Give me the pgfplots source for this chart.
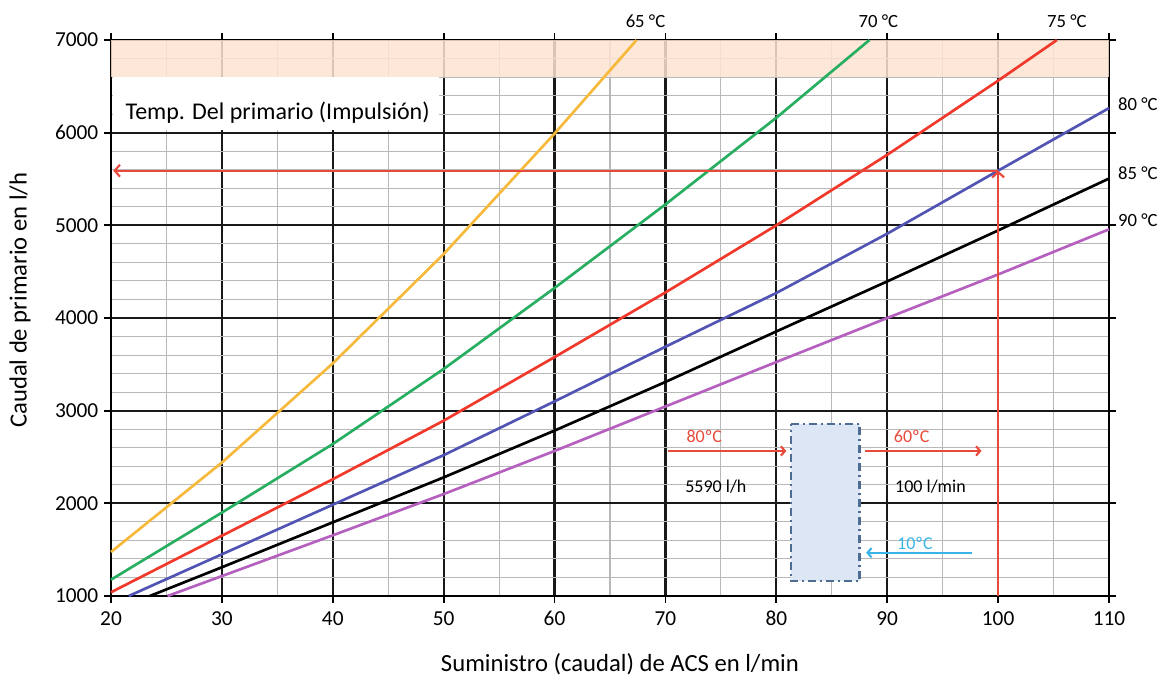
\documentclass[border=0pt]{standalone}
\usepackage{fontspec}
\setmainfont{Carlito}
\usepackage{pgfplots}
\pgfplotsset{compat=1.18}
\usetikzlibrary{arrows.meta}
\definecolor{cyel}{HTML}{F6B93B}
\definecolor{cgre}{HTML}{27AE60}
\definecolor{cred}{HTML}{F0392B}
\definecolor{cblu}{HTML}{5254B4}
\definecolor{cpur}{HTML}{B560BF}
\definecolor{band}{HTML}{FBE3D2}
\definecolor{boxfill}{HTML}{DCE6F4}
\definecolor{boxline}{HTML}{4F6D92}
\definecolor{ccyan}{HTML}{3AB4E6}
\definecolor{lred}{HTML}{E84A3A}
\definecolor{mgrid}{HTML}{B8B8B8}
\begin{document}
\begin{tikzpicture}
\useasboundingbox (0,0) rectangle (870pt,507pt);
\begin{axis}[
  at={(83.25pt,60pt)}, anchor=south west, scale only axis,
  width=748.5pt, height=417pt,
  xmin=20, xmax=110, ymin=1000, ymax=7000,
  xtick={20,30,...,110}, ytick={1000,2000,...,7000},
  minor x tick num=1, minor y tick num=4,
  grid=both,
  major grid style={black!90, line width=1.6pt},
  minor grid style={mgrid, line width=0.8pt},
  tick align=outside, major tick length=5pt, minor tick length=0pt,
  tick style={black, line width=1.4pt},
  axis line style={black, line width=1.6pt},
  clip=false,
  ticklabel style={font=\fontsize{16}{19}\selectfont},
  xticklabel style={yshift=-3pt},
  yticklabel style={xshift=-1pt},
  /pgf/number format/assume math mode=true,
  /pgf/number format/1000 sep={},
  xlabel={Suministro (caudal) de ACS en l/min},
  ylabel={Caudal de primario en l/h},
  label style={font=\fontsize{18.5}{22}\selectfont},
  x label style={at={(axis description cs:0.51,-0.122)}, anchor=center},
  y label style={at={(axis description cs:-0.0912,0.532)}, anchor=center},
]
% band and text box
\addplot[draw=none, fill=band, fill opacity=0.85] coordinates {(20,6600)(110,6600)(110,7000)(20,7000)} -- cycle;
\addplot[draw=none, fill=white] coordinates {(20.2,6025)(49.6,6025)(49.6,6598)(20.2,6598)} -- cycle;
\node[anchor=west, font=\fontsize{18}{21}\selectfont, inner sep=0pt] at (axis cs:21.3,6220) {Temp. Del primario (Impulsión)};

% curves
\addplot[cyel, line width=2pt] coordinates {(20,1475)(30,2440)(40,3510)(50,4690)(60,5990)(67.4,7000)};
\addplot[cgre, line width=2pt] coordinates {(20,1176)(30,1900)(40,2640)(50,3450)(60,4324)(70,5226)(80,6161)(88.4,7000)};
\addplot[cred, line width=2pt] coordinates {(20,1040)(30,1650)(40,2260)(50,2892)(60,3578)(70,4276)(80,5000)(90,5761)(100,6561)(105.3,7000)};
\addplot[cblu, line width=2pt] coordinates {(21.6,1000)(30,1450)(40,1985)(50,2520)(60,3100)(70,3690)(80,4270)(90,4910)(100,5590)(110,6265)};
\addplot[black, line width=2pt] coordinates {(23.5,1000)(30,1310)(40,1795)(50,2280)(60,2785)(70,3310)(80,3855)(90,4395)(100,4945)(110,5505)};
\addplot[cpur, line width=2pt] coordinates {(25.1,1000)(30,1215)(40,1655)(50,2100)(60,2565)(70,3045)(80,3525)(90,4000)(100,4470)(110,4957)};

% reading lines
\addplot[lred, line width=1.6pt, -{Straight Barb[length=4pt,width=9pt]}] coordinates {(100,1000)(100,5590)};
\addplot[lred, line width=1.6pt, -{Straight Barb[length=4pt,width=9pt]}] coordinates {(100,5590)(20.2,5590)};

% curve labels
\begin{scope}[font=\fontsize{14}{16}\selectfont]
\node at (axis cs:68.2,7205) {65 °C};
\node at (axis cs:89.2,7205) {70 °C};
\node at (axis cs:106.2,7205) {75 °C};
\node[anchor=west] at (axis cs:110.4,6310) {80 °C};
\node[anchor=west] at (axis cs:110.4,5565) {85 °C};
\node[anchor=west] at (axis cs:110.4,5058) {90 °C};
\end{scope}

% schematic
\addplot[boxline, fill=boxfill, line width=1.6pt, dash pattern=on 6pt off 3pt on 1.5pt off 3pt] coordinates {(81.3,2860)(87.5,2860)(87.5,1160)(81.3,1160)} -- cycle;
\addplot[lred, line width=1.6pt, -{Straight Barb[length=3pt,width=7pt]}] coordinates {(70.2,2565)(80.9,2565)};
\addplot[lred, line width=1.6pt, -{Straight Barb[length=3pt,width=7pt]}] coordinates {(88.0,2565)(98.5,2565)};
\addplot[ccyan, line width=1.6pt, -{Straight Barb[length=3pt,width=7pt]}] coordinates {(97.6,1467)(88.1,1467)};
\begin{scope}[font=\fontsize{13.5}{16}\selectfont]
\node[lred] at (axis cs:73.5,2727) {80ºC};
\node[lred] at (axis cs:92.2,2727) {60ºC};
\node[ccyan] at (axis cs:92.5,1572) {10ºC};
\node at (axis cs:74.55,2176) {5590 l/h};
\node at (axis cs:93.9,2176) {100 l/min};
\end{scope}
\end{axis}
\end{tikzpicture}
\end{document}
